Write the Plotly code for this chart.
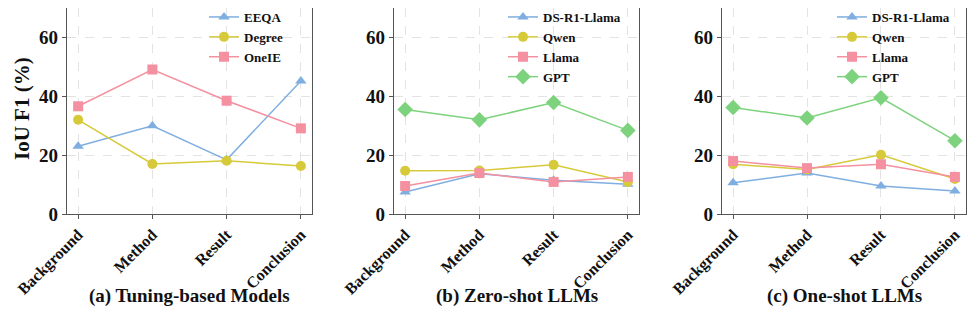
import plotly.graph_objects as go

categories = ["Background", "Method", "Result", "Conclusion"]

# Panel (a) Tuning-based Models
eeqa = [23.0, 30.0, 18.4, 45.2]
degree = [32.0, 17.0, 18.1, 16.3]
oneie = [36.6, 49.1, 38.5, 29.1]

# Panel (b) Zero-shot LLMs
zs_ds = [7.5, 13.7, 11.5, 10.1]
zs_qwen = [14.7, 14.8, 16.7, 10.9]
zs_llama = [9.5, 13.9, 10.9, 12.6]
zs_gpt = [35.5, 32.0, 37.9, 28.4]

# Panel (c) One-shot LLMs
os_ds = [10.6, 13.9, 9.5, 7.8]
os_qwen = [16.9, 15.1, 20.1, 11.9]
os_llama = [18.0, 15.6, 16.9, 12.6]
os_gpt = [36.2, 32.6, 39.5, 24.9]

y_ticks = [0, 20, 40, 60]
panel_titles = ["(a) Tuning-based Models", "(b) Zero-shot LLMs", "(c) One-shot LLMs"]
y_title = "IoU F1 (%)"

BLUE = "#7FAEE0"
YELLOW = "#D6CA3A"
PINK = "#F4909F"
GREEN = "#7DD37D"
FONT = "Liberation Serif"

OFF = 8  # page body margin
W, H = 977 - OFF, 316 - OFF
# reference pixel positions (page coords)
L_REF, R_REF, T_REF, B_REF = 67, 966, 7, 214
ML = L_REF - OFF
MT = max(T_REF - OFF, 0)
MR = W - (R_REF - OFF)
MB = H - (B_REF - OFF)
PW = W - ML - MR
PH = H - MT - MB


def px(x):
    return (x - OFF - ML) / PW


def py(y):
    return (B_REF - y) / PH


domains = [(px(67), px(312)), (px(394), px(639)), (px(722), px(966))]

fig = go.Figure()

panels = [
    [("EEQA", eeqa, BLUE, "triangle-up"), ("Degree", degree, YELLOW, "circle"),
     ("OneIE", oneie, PINK, "square")],
    [("DS-R1-Llama", zs_ds, BLUE, "triangle-up"), ("Qwen", zs_qwen, YELLOW, "circle"),
     ("Llama", zs_llama, PINK, "square"), ("GPT", zs_gpt, GREEN, "diamond")],
    [("DS-R1-Llama", os_ds, BLUE, "triangle-up"), ("Qwen", os_qwen, YELLOW, "circle"),
     ("Llama", os_llama, PINK, "square"), ("GPT", os_gpt, GREEN, "diamond")],
]

legend_x = [px(204), px(503), px(832)]
legend_top = [py(2), py(2), py(2)]

for i, series in enumerate(panels):
    sfx = "" if i == 0 else str(i + 1)
    for name, vals, col, sym in series:
        fig.add_trace(go.Scatter(
            x=list(range(len(categories))), y=vals, name=name, mode="lines+markers",
            line=dict(color=col, width=1.5),
            marker=dict(symbol=sym, size=10 if sym != "diamond" else 12, color=col),
            xaxis="x" + sfx, yaxis="y" + sfx,
            legend="legend" + sfx,
        ))
    axis_common = dict(
        showline=True, linecolor="#555555", linewidth=1.3, mirror=True,
        ticks="outside", ticklen=4, tickcolor="#555555", tickwidth=1,
        showgrid=True, gridcolor="#e3e3e3", griddash="dash", gridwidth=0.8,
        zeroline=False,
    )
    fig.update_layout(**{
        "xaxis" + sfx: dict(
            domain=list(domains[i]), anchor="y" + sfx, range=[-0.15, 3.15],
            tickmode="array", tickvals=list(range(len(categories))),
            ticktext=["<b>%s</b>" % c for c in categories],
            tickangle=-45, automargin=False,
            tickfont=dict(family=FONT, size=16, color="#111111"),
            **axis_common),
        "yaxis" + sfx: dict(
            domain=[0, 1], anchor="x" + sfx, range=[0, 70], automargin=False,
            tickmode="array", tickvals=y_ticks,
            ticktext=["<b>%d</b>" % v for v in y_ticks],
            tickfont=dict(family=FONT, size=19, color="#111111"),
            **axis_common),
        "legend" + sfx: dict(
            x=legend_x[i], y=legend_top[i], xanchor="left", yanchor="top",
            bgcolor="rgba(0,0,0,0)", borderwidth=0,
            font=dict(family=FONT, size=13, color="#111111", weight="bold"),
            itemwidth=30, tracegroupgap=0,
        ),
    })
    cx = (domains[i][0] + domains[i][1]) / 2
    fig.add_annotation(
        text="<b>%s</b>" % panel_titles[i], x=cx, y=py(296), xref="paper", yref="paper",
        xanchor="center", yanchor="middle", showarrow=False,
        font=dict(family=FONT, size=19, color="#111111"),
    )

fig.add_annotation(
    text="<b>%s</b>" % y_title, x=px(22), y=py(109), xref="paper", yref="paper",
    xanchor="center", yanchor="middle", showarrow=False, textangle=-90,
    font=dict(family=FONT, size=21, color="#111111"),
)

fig.update_layout(
    width=W, height=H,
    margin=dict(l=ML, r=MR, t=MT, b=MB, pad=0, autoexpand=False),
    paper_bgcolor="white", plot_bgcolor="white",
    showlegend=True,
)

fig.write_html("out.html")
